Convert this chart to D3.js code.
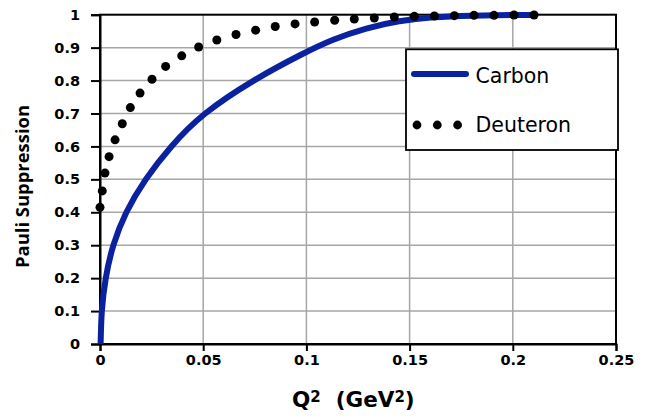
<!DOCTYPE html>
<html>
<head>
<meta charset="utf-8">
<script src="https://cdn.jsdelivr.net/npm/d3@7"></script>
<style>
  body { margin: 0; background: #fff; }
  svg { display: block; }
</style>
</head>
<body>
<div id="chart"></div>
<script>
// Values
const xTicks = [0, 0.05, 0.1, 0.15, 0.2, 0.25];
const yTicks = [0, 0.1, 0.2, 0.3, 0.4, 0.5, 0.6, 0.7, 0.8, 0.9, 1];

const carbonQ2 = [0.0003, 0.0009, 0.0028, 0.0065, 0.0128, 0.0222, 0.0346, 0.051, 0.0745,
                  0.0969, 0.113, 0.129, 0.145, 0.1615, 0.18, 0.2, 0.2115];
const carbonS  = [0, 0.1, 0.2, 0.3, 0.4, 0.5, 0.6, 0.7, 0.8,
                  0.877, 0.924, 0.958, 0.98, 0.992, 0.997, 0.999, 0.999];

const deuteronQ2 = [0, 0.0011, 0.0024, 0.0044, 0.0073, 0.0108, 0.0147, 0.0194, 0.0252, 0.0318,
                    0.0396, 0.0478, 0.0566, 0.0659, 0.0754, 0.0849, 0.0945, 0.104, 0.1137,
                    0.1232, 0.1329, 0.1426, 0.1523, 0.162, 0.1717, 0.1812, 0.1909, 0.2006, 0.2103];
const deuteronS  = [0.415, 0.465, 0.519, 0.569, 0.62, 0.669, 0.718, 0.762, 0.804, 0.843,
                    0.875, 0.902, 0.923, 0.94, 0.953, 0.964, 0.972, 0.978, 0.983,
                    0.987, 0.99, 0.993, 0.995, 0.996, 0.997, 0.998, 0.998, 0.999, 0.999];

const seriesNames = ["Carbon", "Deuteron"];
const carbonColor = "#0a22a0";

const svg = d3.select("#chart").append("svg")
    .attr("width", 646)
    .attr("height", 420);

const x = d3.scaleLinear().domain([0, 0.25]).range([100, 616]);
const y = d3.scaleLinear().domain([0, 1]).range([344, 14.7]);

const fmt = d => d === 0 ? "0" : String(+d.toFixed(2));

// grid
svg.append("g")
    .selectAll("line.gx")
    .data(xTicks.slice(1, -1))
    .enter().append("line")
    .attr("x1", d => x(d)).attr("x2", d => x(d))
    .attr("y1", y(0)).attr("y2", y(1))
    .attr("stroke", "#a6a6a6").attr("stroke-width", 1.5);

svg.append("g")
    .selectAll("line.gy")
    .data(yTicks.slice(1, -1))
    .enter().append("line")
    .attr("x1", x(0)).attr("x2", x(0.25))
    .attr("y1", d => y(d)).attr("y2", d => y(d))
    .attr("stroke", "#a6a6a6").attr("stroke-width", 1.5);

// plot border
svg.append("rect")
    .attr("x", x(0)).attr("y", y(1))
    .attr("width", x(0.25) - x(0)).attr("height", y(0) - y(1))
    .attr("fill", "none").attr("stroke", "#000").attr("stroke-width", 2);

// axes
const yAxis = svg.append("g")
    .attr("transform", `translate(${x(0)},0)`)
    .call(d3.axisLeft(y).tickValues(yTicks).tickFormat(fmt).tickSize(9).tickPadding(11));

const xAxis = svg.append("g")
    .attr("transform", `translate(0,${y(0)})`)
    .call(d3.axisBottom(x).tickValues(xTicks).tickFormat(fmt).tickSize(7).tickPadding(4));

[yAxis, xAxis].forEach(a => {
    a.select(".domain").attr("stroke", "#000").attr("stroke-width", 2);
    a.selectAll(".tick line").attr("stroke", "#000").attr("stroke-width", 2);
    a.selectAll(".tick text")
        .attr("fill", "#000")
        .style("font-family", "'DejaVu Sans', Verdana, sans-serif")
        .style("font-weight", "bold")
        .style("font-size", "14.5px");
});

// carbon curve
const carbonData = carbonQ2.map((q, i) => [q, carbonS[i]]);
const line = d3.line()
    .x(d => x(d[0]))
    .y(d => y(d[1]))
    .curve(d3.curveNatural);

svg.append("path")
    .datum(carbonData)
    .attr("d", line)
    .attr("fill", "none")
    .attr("stroke", carbonColor)
    .attr("stroke-width", 6);

// deuteron dots
const deuteronData = deuteronQ2.map((q, i) => [q, deuteronS[i]]);
svg.append("g")
    .selectAll("circle")
    .data(deuteronData)
    .enter().append("circle")
    .attr("cx", d => x(d[0]))
    .attr("cy", d => y(d[1]))
    .attr("r", 4.5)
    .attr("fill", "#000");

// legend
const legend = svg.append("g");
legend.append("rect")
    .attr("x", 406).attr("y", 49.3)
    .attr("width", 212).attr("height", 100.7)
    .attr("fill", "#fff").attr("stroke", "#000").attr("stroke-width", 1.8);

legend.append("line")
    .attr("x1", 414).attr("x2", 466)
    .attr("y1", 74).attr("y2", 74)
    .attr("stroke", carbonColor).attr("stroke-width", 6)
    .attr("stroke-linecap", "round");

legend.selectAll("circle")
    .data([0, 1, 2])
    .enter().append("circle")
    .attr("cx", d => 417 + d * 20.3)
    .attr("cy", 125)
    .attr("r", 4.4)
    .attr("fill", "#000");

legend.selectAll("text")
    .data(seriesNames)
    .enter().append("text")
    .attr("x", 475.5)
    .attr("y", (d, i) => i === 0 ? 83.3 : 131.7)
    .style("font-family", "'DejaVu Sans', Verdana, sans-serif")
    .style("font-size", "20.5px")
    .attr("fill", "#000")
    .text(d => d);

// axis titles
const xt = svg.append("text")
    .attr("x", 292)
    .attr("y", 407)
    .style("font-family", "'DejaVu Sans', Verdana, sans-serif")
    .style("font-weight", "bold")
    .style("font-size", "21.5px")
    .attr("fill", "#000");
xt.append("tspan").text("Q");
xt.append("tspan").attr("dy", -5).style("font-size", "15px").text("2");
xt.append("tspan").attr("dy", 5).attr("dx", 15).text("(GeV");
xt.append("tspan").attr("dy", -5).style("font-size", "15px").text("2");
xt.append("tspan").attr("dy", 5).text(")");

svg.append("text")
    .attr("transform", "translate(29,186.5) rotate(-90)")
    .attr("text-anchor", "middle")
    .attr("textLength", 163)
    .attr("lengthAdjust", "spacingAndGlyphs")
    .style("font-family", "'Open Sans', sans-serif")
    .style("font-weight", "bold")
    .style("font-size", "17px")
    .attr("fill", "#000")
    .text("Pauli Suppression");
</script>
</body>
</html>
